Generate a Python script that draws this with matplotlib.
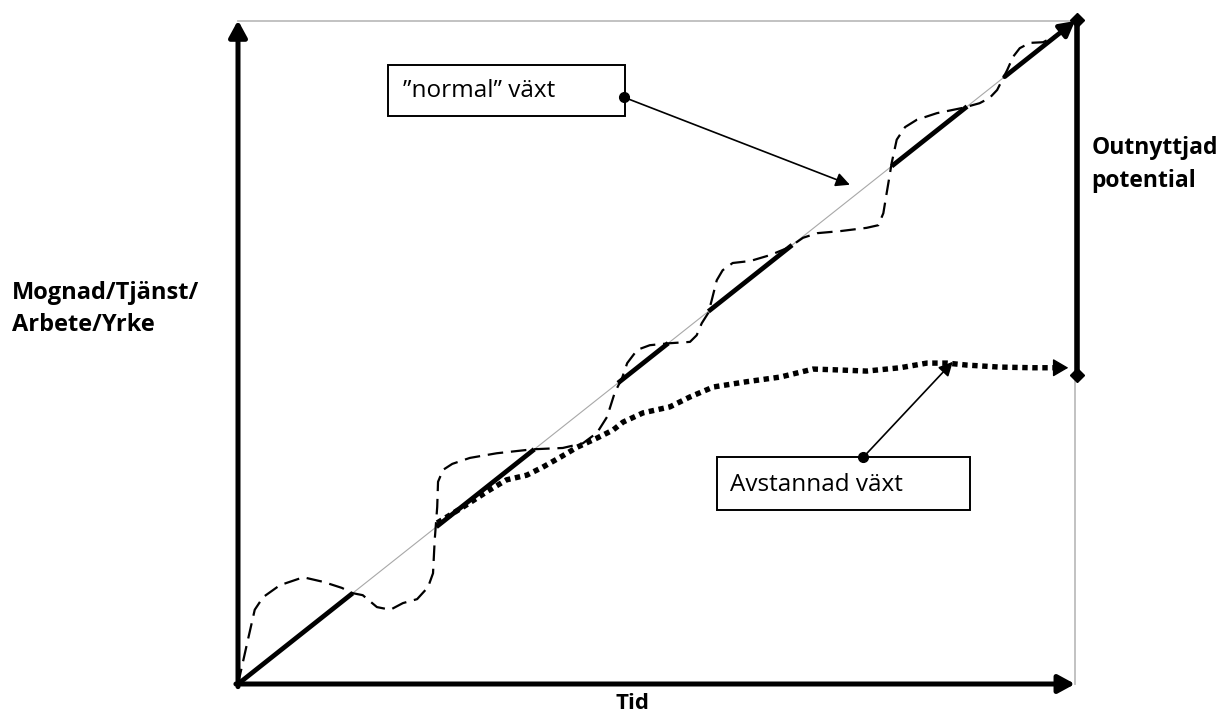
import matplotlib
matplotlib.use("Agg")
import matplotlib.pyplot as plt
from matplotlib.patches import Rectangle

# ---- data (time / level units, 0..100) ----
normal_segments = [(0.0, 13.7), (23.7, 35.4), (45.4, 51.4), (56.2, 66.2), (78.1, 87.1)]
normal_last = (91.6, 100.0)

wavy_t = [0, 1.1, 2.0, 3.0, 5.0, 7.8, 10.2, 12.4, 13.7, 14.9, 16.6, 18.2, 19.7, 21.4, 22.7,
          23.3, 23.5, 23.8, 23.9, 24.5, 25.6, 27.7, 30.9, 35.2, 38.8, 41.2, 42.9, 44.1, 45.0,
          45.9, 46.5, 47.7, 49.2, 51.6, 54.0, 54.8, 55.4, 56.2, 56.6, 57.2, 57.9, 59.1, 61.2,
          63.6, 65.9, 67.5, 69.2, 71.9, 75.1, 76.5, 77.1, 77.4, 77.8, 78.1, 78.7, 79.7, 81.1,
          83.5, 86.6, 88.6, 89.8, 90.7, 91.3, 91.9, 92.6, 93.4, 94.6, 96.2, 97.4, 98.6, 99.8]
wavy_v = [0, 6.2, 11.2, 13.1, 14.9, 16.1, 15.4, 14.5, 13.7, 13.4, 11.6, 11.2, 12.2, 12.8, 14.6,
          16.7, 21.7, 26.7, 30.5, 32.3, 33.2, 34.1, 34.8, 35.4, 35.6, 36.3, 37.9, 40.3, 43.9,
          46.2, 48.4, 50.4, 51.1, 51.4, 51.6, 52.6, 54.4, 56.0, 57.9, 60.9, 62.4, 63.5, 63.8,
          64.7, 65.9, 67.3, 68.0, 68.3, 68.8, 69.2, 71.0, 73.3, 76.3, 78.6, 82.1, 84.0, 85.1,
          86.1, 86.9, 87.6, 88.4, 89.6, 91.1, 92.6, 94.6, 95.9, 96.7, 96.8, 97.6, 98.3, 99.4]

stalled_t = [23.8, 26.9, 30.1, 32.1, 34.5, 36.4, 38.5, 40.5, 42.9, 44.8, 46.0, 48.4, 51.6, 54.0,
             56.8, 60.8, 64.8, 68.7, 71.1, 75.1, 79.1, 82.3, 84.7, 87.1, 91.0, 95.0, 97.6]
stalled_v = [24.3, 26.7, 29.3, 30.8, 31.5, 32.7, 34.2, 35.7, 37.1, 38.3, 39.5, 40.9, 41.8, 43.3,
             44.8, 45.6, 46.3, 47.5, 47.4, 47.2, 47.7, 48.4, 48.4, 48.1, 47.8, 47.7, 47.7]
stalled_tip = (99.2, 47.7)

potential_top = 100.2
potential_bottom = 46.6
potential_x = 100.2

label_normal = "\u201dnormal\u201d v\u00e4xt"
label_stalled = "Avstannad v\u00e4xt"
label_y = "Mognad/Tj\u00e4nst/\nArbete/Yrke"
label_x = "Tid"
label_gap = "Outnyttjad\npotential"

# ---- figure ----
fig = plt.figure(figsize=(12.27, 7.16), dpi=100)
W, H = 1227, 716
x0, y0, x1, y1 = 238, 684, 1075, 21
ax = fig.add_axes([x0 / W, (H - y0) / H, (x1 - x0) / W, (y0 - y1) / H])
ax.set_xlim(0, 100)
ax.set_ylim(0, 100)
ax.axis("off")

gray = "#bdbdbd"
# frame gray lines
ax.plot([0, 100], [100, 100], color=gray, lw=1.3, clip_on=False)
ax.plot([100, 100], [0, potential_bottom], color=gray, lw=1.3, clip_on=False)
# diagonal
ax.plot([0, 100], [0, 100], color="#a8a8a8", lw=0.8, clip_on=False)

# axes arrows
ap = dict(arrowstyle="-|>,head_length=0.55,head_width=0.3", lw=3.6, color="k",
          shrinkA=0, shrinkB=0, mutation_scale=18)
ax.annotate("", xy=(0, 100.1), xytext=(0, -0.4), arrowprops=ap, annotation_clip=False)
ax.annotate("", xy=(100, 0), xytext=(-0.25, 0), arrowprops=ap, annotation_clip=False)

# thick normal segments
for a, b in normal_segments:
    ax.plot([a, b], [a, b], color="k", lw=3.4, solid_capstyle="butt", clip_on=False)
ap2 = dict(arrowstyle="-|>,head_length=0.55,head_width=0.3", lw=3.4, color="k",
           shrinkA=0, shrinkB=0, mutation_scale=16)
ax.annotate("", xy=(normal_last[1], normal_last[1]), xytext=(normal_last[0], normal_last[0]),
            arrowprops=ap2, annotation_clip=False)

# wavy dashed
ax.plot(wavy_t, wavy_v, color="k", lw=1.6, linestyle=(0, (7, 3.5)), clip_on=False)

# stalled dotted
ax.plot(stalled_t, stalled_v, color="k", lw=3.9, linestyle=(0, (1, 0.85)),
        dash_capstyle="butt", clip_on=False)
ap3 = dict(arrowstyle="-|>,head_length=0.6,head_width=0.35", lw=1.0, color="k",
           shrinkA=0, shrinkB=0, mutation_scale=16)
ax.annotate("", xy=stalled_tip, xytext=(stalled_t[-1], stalled_v[-1]),
            arrowprops=ap3, annotation_clip=False)

# potential bar
ax.plot([potential_x, potential_x], [potential_bottom, potential_top], color="k", lw=4.0,
        clip_on=False, solid_capstyle="butt")
ax.plot([potential_x, potential_x], [potential_bottom, potential_top], linestyle="none",
        marker="D", markersize=7, color="k", clip_on=False)

font = "Open Sans"
# normal box
ax.add_patch(Rectangle((17.9, 85.7), 46.2 - 17.9, 93.4 - 85.7, fill=False, ec="k", lw=1.4,
                       clip_on=False))
ax.text(19.7, 89.4, label_normal, fontsize=17.5, family=font, ha="left", va="center")
ap4 = dict(arrowstyle="-|>,head_length=0.6,head_width=0.3", lw=1.2, color="k",
           shrinkA=0, shrinkB=0, mutation_scale=14)
ax.annotate("", xy=(73.1, 75.3), xytext=(46.1, 88.5), arrowprops=ap4, annotation_clip=False)
ax.plot([46.1], [88.5], "o", color="k", markersize=7, clip_on=False)

# stalled box
ax.add_patch(Rectangle((57.2, 26.2), 87.5 - 57.2, 34.2 - 26.2, fill=False, ec="k", lw=1.4,
                       clip_on=False))
ax.text(58.8, 30.0, label_stalled, fontsize=17.5, family=font, ha="left", va="center")
ax.annotate("", xy=(85.4, 48.6), xytext=(74.7, 34.2), arrowprops=ap4, annotation_clip=False)
ax.plot([74.7], [34.2], "o", color="k", markersize=7, clip_on=False)

# labels
bfont = "Open Sans"
ax.text(-27.0, 56.6, label_y, fontsize=17, family=bfont, weight="bold", ha="left",
        va="center", linespacing=1.45)
ax.text(102.0, 78.3, label_gap, fontsize=16.5, family=bfont, weight="bold", ha="left",
        va="center", linespacing=1.5)
ax.text(47.1, -3.0, label_x, fontsize=16, family=bfont, weight="bold", ha="center",
        va="center")

fig.savefig("out.png", dpi=100)
